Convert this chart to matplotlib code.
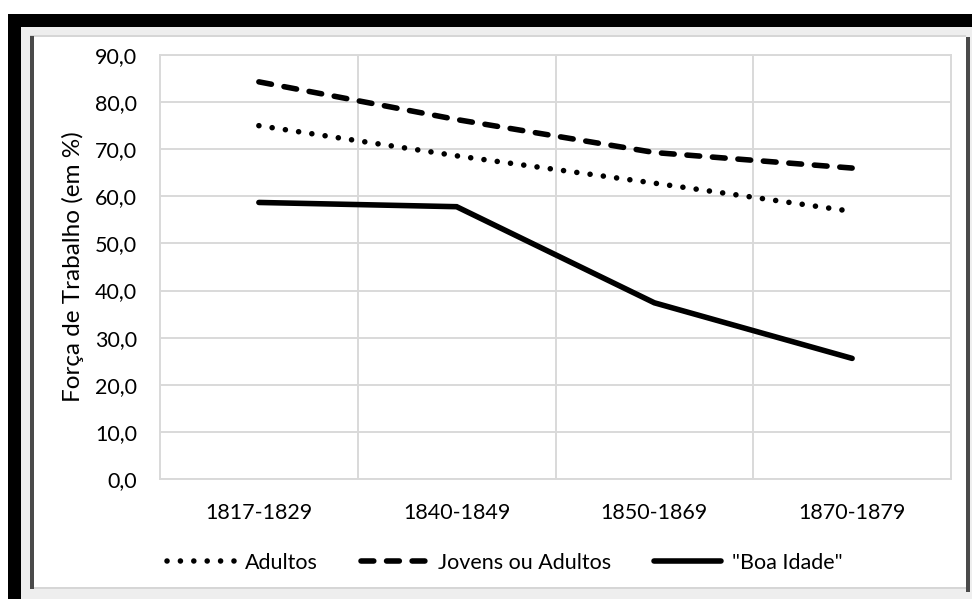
import matplotlib
matplotlib.use("Agg")
import matplotlib.pyplot as plt
from matplotlib.patches import Rectangle
from matplotlib.ticker import FuncFormatter, MultipleLocator, FixedLocator

plt.rcParams['font.family'] = ['Lato', 'DejaVu Sans']

# Data
periods = ["1817-1829", "1840-1849", "1850-1869", "1870-1879"]
adultos = [75.0, 68.6, 62.8, 56.8]
jovens_ou_adultos = [84.3, 76.3, 69.3, 66.0]
boa_idade = [58.7, 57.8, 37.4, 25.6]
series_names = ["Adultos", "Jovens ou Adultos", "\"Boa Idade\""]
y_label = "Força de Trabalho (em %)"

W, H, DPI = 972, 599, 100
FS = 15.5
fig = plt.figure(figsize=(W / DPI, H / DPI), dpi=DPI)
fig.patch.set_facecolor("white")

def px_rect(x0, y0, x1, y1, color):
    fig.patches.append(Rectangle((x0 / W, 1 - y1 / H), (x1 - x0) / W, (y1 - y0) / H,
                                 transform=fig.transFigure, facecolor=color,
                                 edgecolor="none", zorder=-10))

# Page frame: black bands, light bevel and dark shadow around the chart area
px_rect(8, 14, W, 27, "black")
px_rect(8, 14, 21, H, "black")
px_rect(21, 27, W, H, "#eeeeee")
px_rect(30, 35, 966, 589, "white")
px_rect(30, 35, 966, 37, "#d6d6d6")
px_rect(30, 587, 966, 589, "#d6d6d6")
px_rect(30, 36, 34, 589, "#4a4a4a")
px_rect(966, 37, 970, 592, "#4a4a4a")

ax = fig.add_axes([160 / W, 1 - 479 / H, (951 - 160) / W, (479 - 55) / H])
ax.set_zorder(5)
ax.set_facecolor("none")

x = list(range(len(periods)))
lw = 4.0
l1, = ax.plot(x, adultos, color="black", lw=lw, linestyle=(0, (0.01, 2.4)),
              dash_capstyle="round", solid_capstyle="round", label=series_names[0])
l2, = ax.plot(x, jovens_ou_adultos, color="black", lw=lw, linestyle=(0, (2.3, 2.3)),
              dash_capstyle="round", label=series_names[1])
l3, = ax.plot(x, boa_idade, color="black", lw=lw, solid_capstyle="round",
              solid_joinstyle="miter", label=series_names[2])

ax.set_xlim(-0.5, len(periods) - 0.5)
ax.set_ylim(0, 90)
ax.yaxis.set_major_locator(MultipleLocator(10))
ax.yaxis.set_major_formatter(FuncFormatter(lambda v, p: f"{v:.1f}".replace(".", ",")))
ax.set_xticks(x)
ax.set_xticklabels(periods)
ax.xaxis.set_minor_locator(FixedLocator([i + 0.5 for i in x[:-1]]))

grid_c = "#d9d9d9"
ax.grid(axis="y", which="major", color=grid_c, lw=1.4)
ax.grid(axis="x", which="minor", color=grid_c, lw=1.4)
ax.grid(axis="x", which="major", visible=False)
for s in ax.spines.values():
    s.set_color(grid_c)
    s.set_linewidth(1.4)
ax.set_axisbelow(True)

ax.tick_params(axis="both", which="both", length=0, labelsize=FS, colors="black")
ax.tick_params(axis="y", pad=16.5)
ax.tick_params(axis="x", pad=17)

fig.text(73 / W, 1 - 267 / H, y_label, rotation=90, ha="center", va="center",
         fontsize=17.5)

leg = fig.legend(handles=[l1, l2, l3], loc="center", bbox_to_anchor=(505 / W, 1 - 563 / H),
                 ncol=3, frameon=False, fontsize=FS, handlelength=3.1,
                 handletextpad=0.5, columnspacing=2.0)
leg.set_zorder(6)

fig.savefig("out.png", dpi=DPI)
